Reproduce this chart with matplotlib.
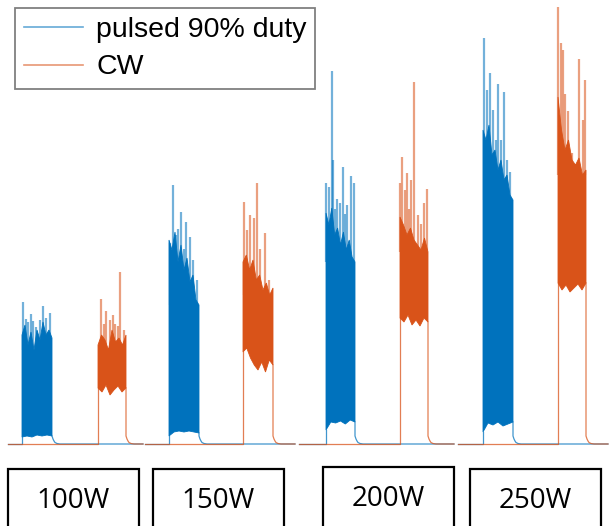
import numpy as np
import matplotlib.pyplot as plt
from matplotlib.lines import Line2D
from matplotlib.patches import Rectangle

BLUE = '#0072BD'
ORANGE = '#D95319'

# === Data ===
powers = ['100W', '150W', '200W', '250W']
record_len = [135, 150, 155, 150]  # s, length of each record

# on / off times of the two bursts (s)
pulsed_on = [14, 24, 27, 25]
pulsed_off = [44, 54, 56, 55]
cw_on = [90, 98, 101, 100]
cw_off = [118, 128, 129, 128]

# dense part of the trace: upper and lower envelope (a.u.), evenly spread over the on time
pulsed_top = [
    [1.09, 1.19, 0.99, 1.12, 0.94, 1.14, 1.04, 1.22, 1.09, 1.14, 1.06],
    [2.04, 1.94, 2.12, 1.82, 1.99, 1.74, 1.86, 1.62, 1.69, 1.44, 1.39],
    [2.31, 2.19, 2.36, 2.09, 2.16, 1.99, 2.12, 1.94, 2.04, 1.87, 1.82],
    [3.14, 3.04, 3.19, 2.89, 2.94, 2.74, 2.84, 2.64, 2.69, 2.49, 2.44],
]
pulsed_bot = [
    [0.07, 0.08, 0.07, 0.09, 0.08, 0.09, 0.08],
    [0.08, 0.12, 0.13, 0.12, 0.13, 0.12, 0.11],
    [0.14, 0.22, 0.21, 0.23, 0.20, 0.24, 0.22],
    [0.12, 0.21, 0.19, 0.22, 0.18, 0.20, 0.22],
]
cw_top = [
    [0.99, 1.09, 1.04, 0.94, 1.14, 1.02, 1.06, 0.99, 1.09],
    [1.82, 1.89, 1.74, 1.84, 1.64, 1.69, 1.54, 1.61, 1.49, 1.56],
    [2.27, 2.19, 2.09, 2.16, 2.04, 1.99, 1.94, 2.06, 1.92],
    [3.47, 3.14, 2.94, 3.04, 2.84, 2.79, 2.86, 2.69, 2.74],
]
cw_bot = [
    [0.56, 0.52, 0.59, 0.49, 0.54, 0.58, 0.52, 0.56],
    [0.92, 0.96, 0.86, 0.79, 0.74, 0.82, 0.72, 0.84, 0.79],
    [1.26, 1.22, 1.29, 1.19, 1.24, 1.18, 1.26, 1.22],
    [1.61, 1.54, 1.59, 1.52, 1.56, 1.60, 1.54, 1.61],
]

# single spikes above the dense part: time (s) and peak (a.u.)
pulsed_spike_t = [
    [15, 18, 20, 23, 25, 28, 32, 35, 38, 42],
    [25, 28, 31, 33, 36, 39, 41, 45, 48, 52],
    [27, 30, 33, 34, 36, 38, 41, 44, 46, 48, 52, 55],
    [26, 29, 32, 35, 38, 40, 43, 46, 49, 52],
]
pulsed_spike_v = [
    [1.42, 1.25, 1.22, 1.30, 1.23, 1.17, 1.24, 1.38, 1.26, 1.31],
    [2.01, 2.59, 2.09, 2.15, 2.32, 1.95, 2.22, 2.07, 1.84, 1.64],
    [2.61, 2.57, 3.73, 2.84, 2.35, 2.45, 2.41, 2.77, 2.30, 2.39, 2.68, 2.61],
    [4.06, 3.54, 3.71, 3.34, 3.04, 3.60, 3.04, 3.52, 2.84, 2.72],
]
cw_spike_t = [
    [93, 96, 98, 102, 105, 107, 110, 112, 116],
    [99, 102, 105, 109, 112, 115, 120, 124],
    [101, 103, 106, 108, 110, 112, 115, 119, 122, 125, 128],
    [100, 103, 105, 107, 110, 114, 118, 121, 125, 127],
]
cw_spike_v = [
    [1.45, 1.20, 1.33, 1.24, 1.29, 1.20, 1.18, 1.72, 1.14],
    [2.42, 2.14, 2.29, 2.26, 2.61, 1.95, 2.11, 1.64],
    [2.61, 2.87, 2.54, 2.71, 2.35, 2.64, 3.62, 2.29, 2.20, 2.41, 2.55],
    [4.37, 4.01, 3.94, 3.50, 3.33, 2.91, 2.79, 3.85, 3.24, 3.64],
]

# decay after switch-off: delay (s) and level (a.u.)
tail_dt = [0, 1, 2, 3, 5, 8]
tail_val = [0.08, 0.05, 0.03, 0.015, 0.005, 0.0]


def draw_trace(ax, color, t_on, t_off, top, bot, spk_t, spk_v, t_end):
    tt = np.linspace(t_on, t_off, len(top))
    tb = np.linspace(t_on, t_off, len(bot))
    # baseline and rising edge
    ax.plot([0, t_on, t_on], [0, 0, bot[0]], color=color, lw=0.9,
            alpha=0.75, clip_on=False)
    # falling edge, decay and baseline again
    xt = [t_off] + [t_off + d for d in tail_dt] + [t_end]
    yt = [bot[-1]] + tail_val + [0]
    ax.plot(xt, yt, color=color, lw=0.9, alpha=0.75, clip_on=False)
    # dense part
    ax.fill(np.concatenate([tt, tb[::-1]]), np.concatenate([top, bot[::-1]]),
            color=color, lw=0.6)
    # spikes
    ax.vlines(spk_t, min(top), spk_v, color=color, lw=1.6, alpha=0.55)


fig = plt.figure(figsize=(6.09, 5.26), dpi=100)
W, H = 609, 526
panel_left = [8, 145, 299, 458]

for i in range(4):
    ax = fig.add_axes([panel_left[i] / W, (H - 448) / H,
                       record_len[i] / W, 448 / H])
    draw_trace(ax, BLUE, pulsed_on[i], pulsed_off[i], pulsed_top[i],
               pulsed_bot[i], pulsed_spike_t[i], pulsed_spike_v[i],
               record_len[i])
    draw_trace(ax, ORANGE, cw_on[i], cw_off[i], cw_top[i], cw_bot[i],
               cw_spike_t[i], cw_spike_v[i], record_len[i])
    ax.set_xlim(0, record_len[i])
    ax.set_ylim(-0.04, 4.44)
    ax.axis('off')

# legend
handles = [Line2D([], [], color=BLUE, lw=1.2, alpha=0.6),
           Line2D([], [], color=ORANGE, lw=1.2, alpha=0.6)]
leg = fig.legend(handles, ['pulsed 90% duty', 'CW'], loc='upper left',
                 bbox_to_anchor=(15 / W, 1 - 8 / H), borderaxespad=0,
                 prop={'family': 'Liberation Sans', 'size': 20.5},
                 handlelength=2.1, handletextpad=0.45, labelspacing=0.42,
                 borderpad=0.3, fancybox=False, framealpha=1)
leg.get_frame().set_edgecolor('#808080')
leg.get_frame().set_linewidth(1.3)

# power labels under the traces
box_left = [8, 153, 323, 470]
box_top = [469, 469, 467, 469]
for i in range(4):
    fig.add_artist(Rectangle((box_left[i] / W, -0.1), 131 / W,
                             (H - box_top[i]) / H + 0.1,
                             transform=fig.transFigure, fill=False,
                             ec='black', lw=1.6))
    fig.text((box_left[i] + 65.5) / W, 1 - (box_top[i] + 32) / H, powers[i],
             ha='center', va='center', family='Open Sans', size=20)

fig.savefig('out.png', dpi=100)
